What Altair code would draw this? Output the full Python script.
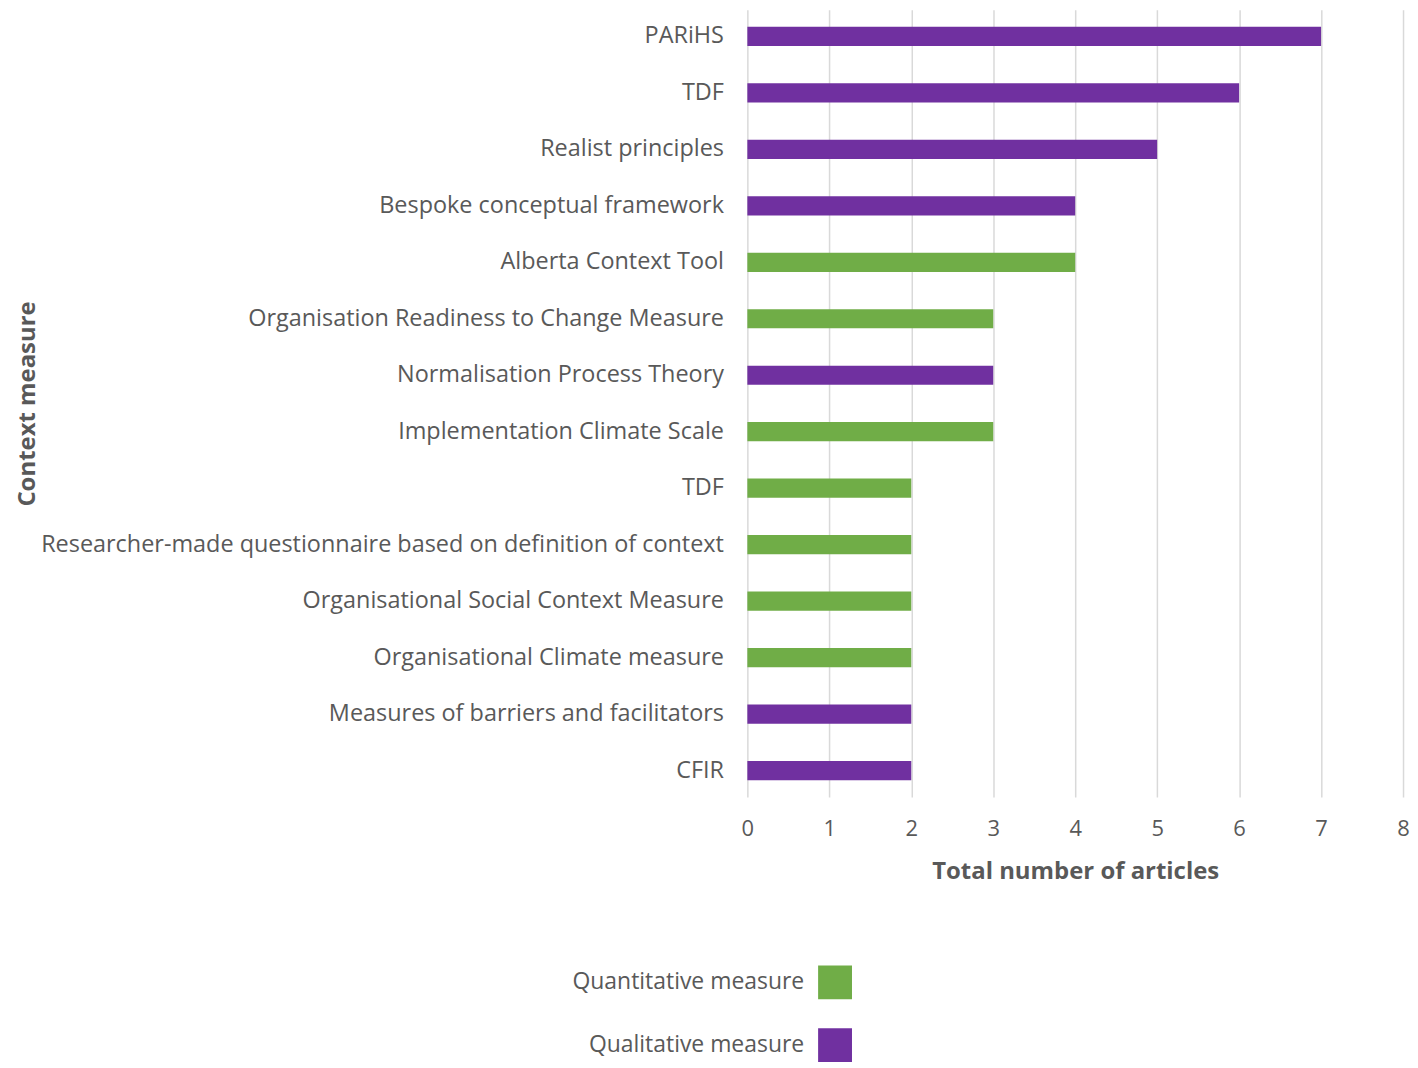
import altair as alt
import pandas as pd

measures = [
    "PARiHS", "TDF", "Realist principles", "Bespoke conceptual framework",
    "Alberta Context Tool", "Organisation Readiness to Change Measure",
    "Normalisation Process Theory", "Implementation Climate Scale",
    "TDF\u200b", "Researcher-made questionnaire based on definition of context",
    "Organisational Social Context Measure", "Organisational Climate measure",
    "Measures of barriers and facilitators", "CFIR",
]
counts = [7, 6, 5, 4, 4, 3, 3, 3, 2, 2, 2, 2, 2, 2]
types = [
    "Qualitative measure", "Qualitative measure", "Qualitative measure", "Qualitative measure",
    "Quantitative measure", "Quantitative measure", "Qualitative measure", "Quantitative measure",
    "Quantitative measure", "Quantitative measure", "Quantitative measure", "Quantitative measure",
    "Qualitative measure", "Qualitative measure",
]
legend_order = ["Quantitative measure", "Qualitative measure"]
legend_colors = ["#70AD47", "#7030A0"]

df = pd.DataFrame({"measure": measures, "count": counts, "type": types})

FONT = "Open Sans"
GREY = "#595959"
H = 790

chart = alt.Chart(df).mark_bar().encode(
    y=alt.Y("measure:N", sort=measures,
            scale=alt.Scale(paddingInner=0.66, paddingOuter=0.3),
            axis=alt.Axis(title="Context measure", titleFontSize=24, titleFontWeight="bold",
                          titleColor=GREY, titleFont=FONT, titleX=-710, titleY=H / 2,
                          titleAngle=270, titleAlign="center", titleBaseline="bottom",
                          labelFont=FONT, labelFontSize=23.5, labelColor=GREY,
                          labelPadding=24, ticks=False, domain=False, labelLimit=900)),
    x=alt.X("count:Q", scale=alt.Scale(domain=[0, 8]),
            axis=alt.Axis(title="Total number of articles", titleFontSize=24, titleFontWeight="bold",
                          titleColor=GREY, titleFont=FONT, titlePadding=20,
                          labelFont=FONT, labelFontSize=22, labelColor=GREY, labelPadding=22,
                          labelFlush=False, ticks=False, domain=False, values=list(range(9)),
                          gridColor="#D9D9D9", gridWidth=1.5)),
    color=alt.Color("type:N", sort=legend_order,
                    scale=alt.Scale(domain=legend_order, range=legend_colors),
                    legend=alt.Legend(title=None, orient="none", legendX=71, legendY=959,
                                      direction="vertical", symbolType="square",
                                      symbolSize=1156, symbolStrokeWidth=0, symbolOpacity=1,
                                      labelFont=FONT, labelFontSize=23, labelColor=GREY,
                                      labelAlign="right", labelOffset={"expr": "-48"},
                                      labelLimit=400, rowPadding=29)),
).properties(width=658, height=H,
             padding={"left": 8, "top": 0, "right": 0, "bottom": 0}).configure(
    background="white", view=alt.ViewConfig(stroke=None)
)

chart.save("out.html", embed_options={"renderer": "svg", "actions": False})
